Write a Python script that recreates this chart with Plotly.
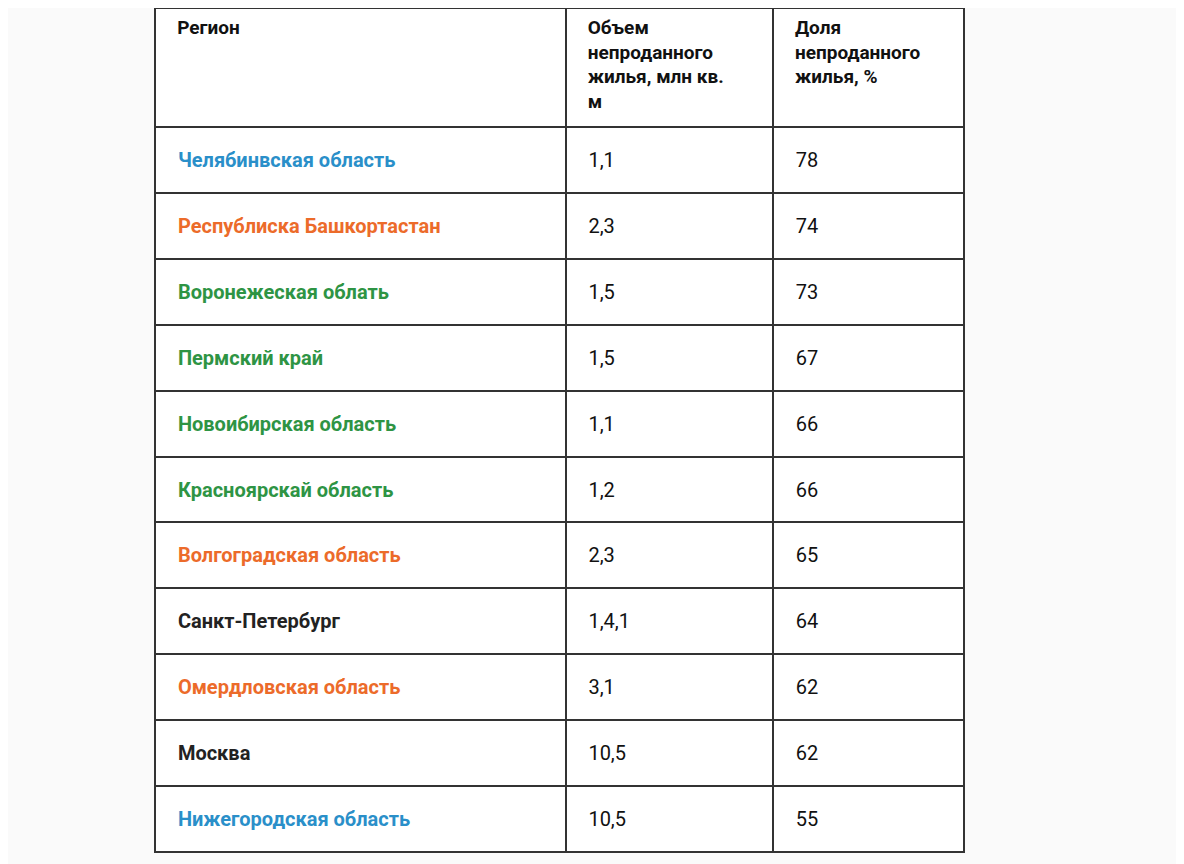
import plotly.graph_objects as go

headers = ["Регион", "Объем<br>непроданного<br>жилья, млн кв.<br>м", "Доля<br>непроданного<br>жилья, %"]
regions = ["Челябинвская область", "Республиска Башкортастан", "Воронежеская облать", "Пермский край",
           "Новоибирская область", "Красноярскай область", "Волгоградская область", "Санкт-Петербург",
           "Омердловская область", "Москва", "Нижегородская область"]
volumes = ["1,1", "2,3", "1,5", "1,5", "1,1", "1,2", "2,3", "1,4,1", "3,1", "10,5", "10,5"]
shares = ["78", "74", "73", "67", "66", "66", "65", "64", "62", "62", "55"]
region_colors = ["#2a8fc9", "#ec6b2a", "#2e9444", "#2e9444", "#2e9444", "#2e9444", "#ec6b2a",
                 "#222222", "#ec6b2a", "#222222", "#2a8fc9"]

ind = "&nbsp;&nbsp;&nbsp;"
spacer = "<span style='font-size:6px'>&nbsp;</span><br>"
pre = spacer + ind


def hdr(h):
    return "<br>".join("<b>%s%s</b>" % (ind, line) for line in h.split("<br>"))


fig = go.Figure(go.Table(
    domain=dict(x=[147 / 1184, 956 / 1184], y=[0, 1]),
    columnwidth=[410, 207, 191],
    header=dict(
        values=[hdr(h) for h in headers],
        height=119, align="left",
        font=dict(family="Roboto", size=19, color="#111"),
        fill_color="white",
        line=dict(color="#333", width=2),
    ),
    cells=dict(
        values=[[pre + "<b>%s</b>" % r for r in regions],
                [pre + v for v in volumes],
                [pre + s for s in shares]],
        height=65.9, align="left",
        font=dict(family="Roboto", size=20, color=[region_colors, "#111", "#111"]),
        fill_color="white",
        line=dict(color="#333", width=2),
    ),
))
fig.update_layout(width=1184, height=864, margin=dict(l=0, r=0, t=0, b=4),
                  paper_bgcolor="#fafafa")
fig.write_html("out.html")
